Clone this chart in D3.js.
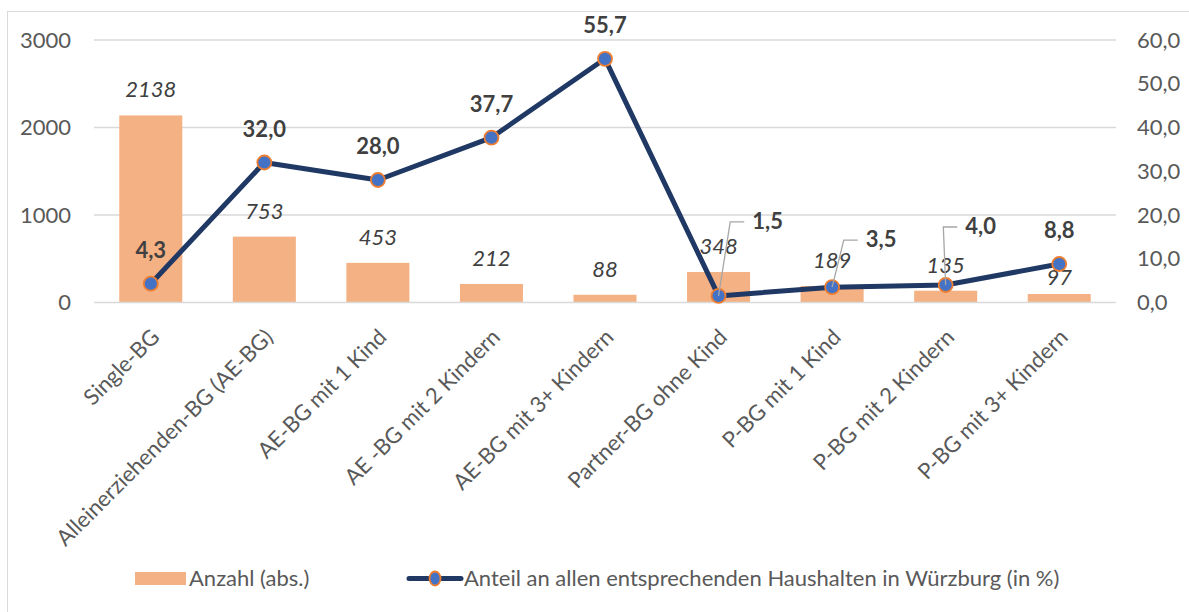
<!DOCTYPE html>
<html>
<head>
<meta charset="utf-8">
<script src="https://cdn.jsdelivr.net/npm/d3@7"></script>
<style>
  body { margin: 0; background: #fff; }
  text { font-family: Lato, "Open Sans", sans-serif; }
</style>
</head>
<body>
<script>
// Chart data
var categories = ["Single-BG", "Alleinerziehenden-BG (AE-BG)", "AE-BG mit 1 Kind", "AE -BG mit 2 Kindern",
  "AE-BG mit 3+ Kindern", "Partner-BG ohne Kind", "P-BG mit 1 Kind", "P-BG mit 2 Kindern", "P-BG mit 3+ Kindern"];
var anzahl = [2138, 753, 453, 212, 88, 348, 189, 135, 97];
var anteil = [4.3, 32.0, 28.0, 37.7, 55.7, 1.5, 3.5, 4.0, 8.8];
var leftTicks = [0, 1000, 2000, 3000];
var rightTicks = [0, 10, 20, 30, 40, 50, 60];
var legendLabels = ["Anzahl (abs.)", "Anteil an allen entsprechenden Haushalten in Würzburg (in %)"];

// label nudges (index -> [dx, dy] of the value label from its point)
var lineLabelNudge = { 5: [49, -67], 6: [49, -40], 7: [35, -51] };
var barLabelNudge = { 8: 9 };

var svgWidth = 1189;
var svgHeight = 612;
var plot = { left: 94, right: 1116, top: 40, bottom: 302.5 };
var fontSize = 22;

var svg = d3.select("body")
  .append("svg")
  .attr("width", svgWidth)
  .attr("height", svgHeight);

// chart border
svg.append("rect")
  .attr("x", 7.5).attr("y", 11.5)
  .attr("width", 1300).attr("height", 700)
  .attr("fill", "none")
  .attr("stroke", "#d9d9d9");

var x = d3.scaleBand()
  .domain(categories)
  .range([plot.left, plot.right])
  .paddingInner(0.445)
  .paddingOuter(0.2225);

var yLeft = d3.scaleLinear().domain([0, 3000]).range([plot.bottom, plot.top]);
var yRight = d3.scaleLinear().domain([0, 60]).range([plot.bottom, plot.top]);

var fmt = d => d.toFixed(1).replace(".", ",");

// gridlines
svg.append("g")
  .selectAll("line")
  .data(leftTicks.slice(1))
  .enter()
  .append("line")
  .attr("x1", plot.left).attr("x2", plot.right)
  .attr("y1", d => yLeft(d)).attr("y2", d => yLeft(d))
  .attr("stroke", "#d9d9d9")
  .attr("stroke-width", 1.3);

// left axis
var leftAxis = svg.append("g")
  .attr("transform", `translate(${plot.left - 23}, 0)`)
  .call(d3.axisLeft(yLeft).tickValues(leftTicks).tickFormat(d3.format("d")).tickSize(0).tickPadding(0));
leftAxis.select(".domain").remove();
leftAxis.selectAll("text").attr("font-size", fontSize).attr("fill", "#595959").attr("font-family", "Lato");

// right axis
var rightAxis = svg.append("g")
  .attr("transform", `translate(${plot.right + 21}, 0)`)
  .call(d3.axisRight(yRight).tickValues(rightTicks).tickFormat(fmt).tickSize(0).tickPadding(0));
rightAxis.select(".domain").remove();
rightAxis.selectAll("text").attr("font-size", fontSize).attr("fill", "#595959").attr("font-family", "Lato");

// bars
svg.append("g")
  .selectAll("rect")
  .data(anzahl)
  .enter()
  .append("rect")
  .attr("x", (d, i) => x(categories[i]))
  .attr("y", d => yLeft(d))
  .attr("width", x.bandwidth())
  .attr("height", d => yLeft(0) - yLeft(d))
  .attr("fill", "#f4b183");

// baseline
svg.append("line")
  .attr("x1", plot.left).attr("x2", plot.right)
  .attr("y1", yLeft(0)).attr("y2", yLeft(0))
  .attr("stroke", "#d9d9d9")
  .attr("stroke-width", 1.5);

// bar labels
svg.append("g")
  .selectAll("text")
  .data(anzahl)
  .enter()
  .append("text")
  .attr("x", (d, i) => x(categories[i]) + x.bandwidth() / 2)
  .attr("y", (d, i) => yLeft(d) - 18 + (barLabelNudge[i] || 0))
  .attr("text-anchor", "middle")
  .attr("font-size", fontSize)
  .attr("font-style", "italic")
  .attr("fill", "#404040")
  .text(d => d);

// line
var cx = i => x(categories[i]) + x.bandwidth() / 2;
var line = d3.line()
  .x((d, i) => cx(i))
  .y(d => yRight(d));

svg.append("path")
  .datum(anteil)
  .attr("d", line)
  .attr("fill", "none")
  .attr("stroke", "#1f3864")
  .attr("stroke-width", 5)
  .attr("stroke-linejoin", "round");

svg.append("g")
  .selectAll("circle")
  .data(anteil)
  .enter()
  .append("circle")
  .attr("cx", (d, i) => cx(i))
  .attr("cy", d => yRight(d))
  .attr("r", 7)
  .attr("fill", "#4472c4")
  .attr("stroke", "#ed7d31")
  .attr("stroke-width", 1.8);

// line labels and leader lines
var lineLabels = svg.append("g");
anteil.forEach(function(d, i) {
  var px = cx(i), py = yRight(d);
  var nudge = lineLabelNudge[i];
  var lx = px, ly = py - 26;
  if (nudge) { lx = px + nudge[0]; ly = py + nudge[1]; }
  var t = lineLabels.append("text")
    .attr("x", lx)
    .attr("y", ly)
    .attr("text-anchor", "middle")
    .attr("font-size", fontSize)
    .attr("font-weight", "bold")
    .attr("fill", "#404040")
    .text(fmt(d));
  if (nudge) {
    var w = t.node().getComputedTextLength();
    var endX = lx - w / 2 - 8;
    var endY = ly - 7;
    lineLabels.append("polyline")
      .attr("points", `${px},${py} ${endX - 14},${endY} ${endX},${endY}`)
      .attr("fill", "none")
      .attr("stroke", "#a6a6a6")
      .attr("stroke-width", 1.3);
  }
});

// x axis labels
svg.append("g")
  .selectAll("text")
  .data(categories)
  .enter()
  .append("text")
  .attr("transform", d => `translate(${x(d) + x.bandwidth() / 2 + 10}, ${plot.bottom + 36}) rotate(-45)`)
  .attr("text-anchor", "end")
  .attr("font-size", fontSize)
  .attr("fill", "#595959")
  .text(d => d);

// legend
var legend = svg.append("g");
legend.append("rect")
  .attr("x", 135).attr("y", 572)
  .attr("width", 51).attr("height", 13)
  .attr("fill", "#f4b183");
legend.append("text")
  .attr("x", 189).attr("y", 586)
  .attr("font-size", fontSize)
  .attr("fill", "#595959")
  .text(legendLabels[0]);
legend.append("line")
  .attr("x1", 409).attr("x2", 461)
  .attr("y1", 578.5).attr("y2", 578.5)
  .attr("stroke", "#1f3864")
  .attr("stroke-width", 5)
  .attr("stroke-linecap", "round");
legend.append("ellipse")
  .attr("cx", 435).attr("cy", 578.5)
  .attr("rx", 5.5).attr("ry", 7)
  .attr("fill", "#4472c4")
  .attr("stroke", "#ed7d31")
  .attr("stroke-width", 1.8);
legend.append("text")
  .attr("x", 464).attr("y", 586)
  .attr("font-size", fontSize)
  .attr("fill", "#595959")
  .text(legendLabels[1]);
</script>
</body>
</html>
